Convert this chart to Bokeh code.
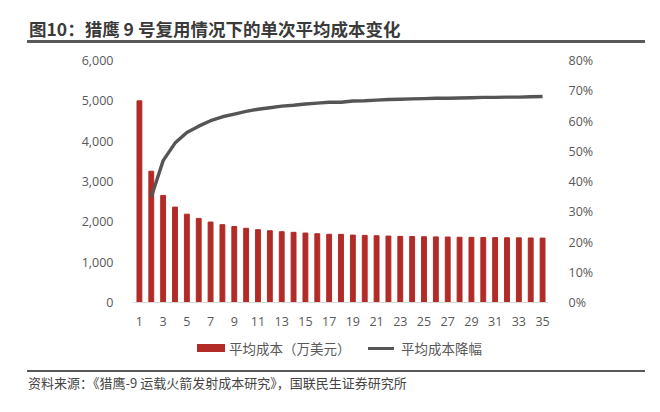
from bokeh.plotting import figure
from bokeh.models import Range1d, LinearAxis, FixedTicker, NumeralTickFormatter, Div
from bokeh.layouts import column
from bokeh.embed import file_html
from bokeh.resources import INLINE

title_text = "图10：猎鹰 9 号复用情况下的单次平均成本变化"
source_text = "资料来源：《猎鹰-9 运载火箭发射成本研究》，国联民生证券研究所"
bar_name = "平均成本（万美元）"
line_name = "平均成本降幅"

launches = list(range(1, 36))
avg_cost = [5000, 3255, 2655, 2365, 2190, 2085, 1995, 1930, 1885, 1840,
            1805, 1780, 1755, 1740, 1722, 1705, 1692, 1690, 1672, 1664,
            1655, 1647, 1640, 1636, 1630, 1627, 1623, 1618, 1615, 1612,
            1609, 1606, 1603, 1600, 1597]
line_x = list(range(2, 36))
cost_drop = [0.349, 0.469, 0.527, 0.562, 0.583, 0.601, 0.614, 0.623, 0.632,
             0.639, 0.644, 0.649, 0.652, 0.656, 0.659, 0.662, 0.662, 0.666,
             0.667, 0.669, 0.671, 0.672, 0.673, 0.674, 0.675, 0.675, 0.676,
             0.677, 0.678, 0.678, 0.679, 0.679, 0.680, 0.681]
x_ticks = list(range(1, 36, 2))
left_ticks = [0, 1000, 2000, 3000, 4000, 5000, 6000]
right_ticks = [0, 0.1, 0.2, 0.3, 0.4, 0.5, 0.6, 0.7, 0.8]

CJK = "Noto Sans CJK SC"
LAT = "Open Sans"
TXT = "#595959"
BAR_C = "#B22B27"
LINE_C = "#555555"

title_div = Div(
    text=f'<div style="position:relative;width:650px;height:44px;">'
         f'<div style="position:absolute;left:29px;top:18px;font-family:\'{CJK}\';font-weight:bold;'
         f'font-size:17.5px;line-height:22px;color:#3a3a3a;white-space:nowrap;">{title_text}</div>'
         f'<div style="position:absolute;left:27px;top:40px;width:618px;height:3px;background:#595959;"></div>'
         f'</div>',
    width=650, height=44, margin=0)

p = figure(width=644, height=286, x_range=Range1d(0.5, 35.5), y_range=Range1d(0, 6000),
           output_backend="svg", toolbar_location=None,
           min_border_left=133, min_border_right=96, min_border_top=16, min_border_bottom=28,
           margin=0)
p.outline_line_color = None
p.xgrid.visible = False
p.ygrid.visible = False
p.background_fill_color = "white"
p.border_fill_color = "white"
p.extra_y_ranges = {"pct": Range1d(0, 0.8)}

bars = p.vbar(x=launches, top=avg_cost, width=0.41, color=BAR_C)
ln = p.line(x=line_x, y=cost_drop, y_range_name="pct", line_color=LINE_C, line_width=3.4)

xa = p.xaxis[0]
xa.ticker = FixedTicker(ticks=x_ticks)
xa.axis_line_color = "#d9d9d9"
xa.major_tick_line_color = None
xa.minor_tick_line_color = None
xa.major_label_standoff = 8
xa.major_label_text_font = LAT
xa.major_label_text_font_size = "12.5px"
xa.major_label_text_color = TXT

ya = p.yaxis[0]
ya.ticker = FixedTicker(ticks=left_ticks)
ya.formatter = NumeralTickFormatter(format="0,0")
ya.axis_line_color = None
ya.major_tick_line_color = None
ya.minor_tick_line_color = None
ya.major_label_standoff = 14
ya.major_label_text_font = LAT
ya.major_label_text_font_size = "12.5px"
ya.major_label_text_color = TXT

ra = LinearAxis(y_range_name="pct", ticker=FixedTicker(ticks=right_ticks),
                formatter=NumeralTickFormatter(format="0%"))
ra.axis_line_color = None
ra.major_tick_line_color = None
ra.minor_tick_line_color = None
ra.major_label_standoff = 14
ra.major_label_text_font = LAT
ra.major_label_text_font_size = "12.5px"
ra.major_label_text_color = TXT
p.add_layout(ra, "right")

lbl = f"font-family:'{CJK}';font-size:13.5px;line-height:18px;color:{TXT};white-space:nowrap;"
bottom_div = Div(
    text=f'<div style="position:relative;width:650px;height:80px;">'
         f'<div style="position:absolute;left:197px;top:14px;width:28px;height:8px;background:{BAR_C};"></div>'
         f'<div style="position:absolute;left:229px;top:9px;{lbl}">{bar_name}</div>'
         f'<div style="position:absolute;left:368px;top:16.5px;width:26px;height:3.5px;background:{LINE_C};"></div>'
         f'<div style="position:absolute;left:401px;top:9px;{lbl}">{line_name}</div>'
         f'<div style="position:absolute;left:27px;top:39.5px;width:618px;height:2.5px;background:#595959;"></div>'
         f'<div style="position:absolute;left:28px;top:44px;font-family:\'{CJK}\';font-size:13px;'
         f'line-height:18px;color:#444444;white-space:nowrap;">{source_text}</div>'
         f'</div>',
    width=650, height=80, margin=0)

layout = column(title_div, p, bottom_div, spacing=0)
open("out.html", "w").write(file_html(layout, INLINE))
